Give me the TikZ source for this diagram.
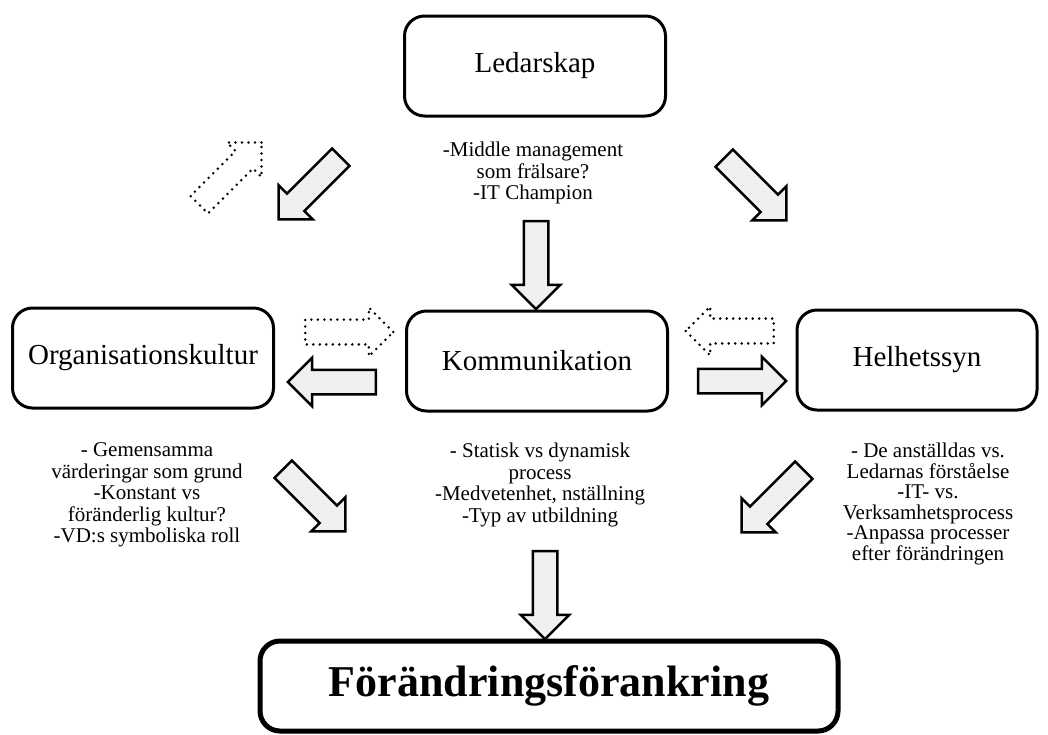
\documentclass[tikz,border=0pt]{standalone}
\usepackage{fontspec}
\setmainfont{Liberation Serif}
\usetikzlibrary{shapes.arrows}
\tikzset{
  boxnode/.style={draw,rounded corners=20pt,line width=3pt,minimum width=261pt,minimum height=100pt,font=\fontsize{29}{33}\selectfont},
  notenode/.style={align=center,inner sep=0pt,font=\fontsize{21}{21.5}\selectfont},
  blockarrow/.style={single arrow,draw,fill=black!6,line width=2.5pt,minimum height=88pt,minimum width=0pt,
    inner xsep=0pt,inner ysep=11pt,single arrow head extend=12pt,single arrow tip angle=90},
  dotarrow/.style={blockarrow,fill=white,line width=2.8pt,line cap=round,dash pattern=on 0pt off 6.5pt}
}
\begin{document}
\begin{tikzpicture}[x=1pt,y=-1pt]
  \useasboundingbox (0,0) rectangle (1048,734);
  % boxes
  \node[boxnode] (lead) at (535,66) {Ledarskap};
  \node[boxnode] (komm) at (537,361) {Kommunikation};
  \node[boxnode] (org) at (143,358) {Organisationskultur};
  \node[boxnode,minimum width=240pt] (helh) at (917,360) {Helhetssyn};
  \node[boxnode,line width=5pt,minimum width=578pt,minimum height=90pt,
    font=\fontsize{44}{48}\selectfont\bfseries] (final) at (549,686) {Förändringsförankring};
  % notes
  \node[notenode] (leadnote) at (533,173) {-Middle management\\som frälsare?\\-IT Champion};
  \node[notenode] (orgnote) at (147,495) {- Gemensamma\\värderingar som grund\\-Konstant vs\\föränderlig kultur?\\-VD:s symboliska roll};
  \node[notenode] (kommnote) at (540,485) {- Statisk vs dynamisk\\process\\-Medvetenhet, nställning\\-Typ av utbildning};
  \node[notenode,font=\fontsize{21}{20.5}\selectfont] (helhnote) at (928,504) {- De anställdas vs.\\Ledarnas förståelse\\-IT- vs.\\Verksamhetsprocess\\-Anpassa processer\\efter förändringen};
  % block arrows
  \foreach \nm/\px/\py/\ang in {ld/536/259/-90,fd/545/589/-90,kl/338/382/180,kr/736/381/0,
    ll/314/184/-135,lr/751/185/-45,ol/310/496/-45,hl/777/497/-135}
    \node[blockarrow,rotate=\ang] (\nm) at (\px,\py) {};
  \foreach \nm/\px/\py/\ang in {od/343/332/0,hd/736/331/180,ud/226/178/45}
    \node[dotarrow,rotate=\ang] (\nm) at (\px,\py) {};
\end{tikzpicture}
\end{document}
